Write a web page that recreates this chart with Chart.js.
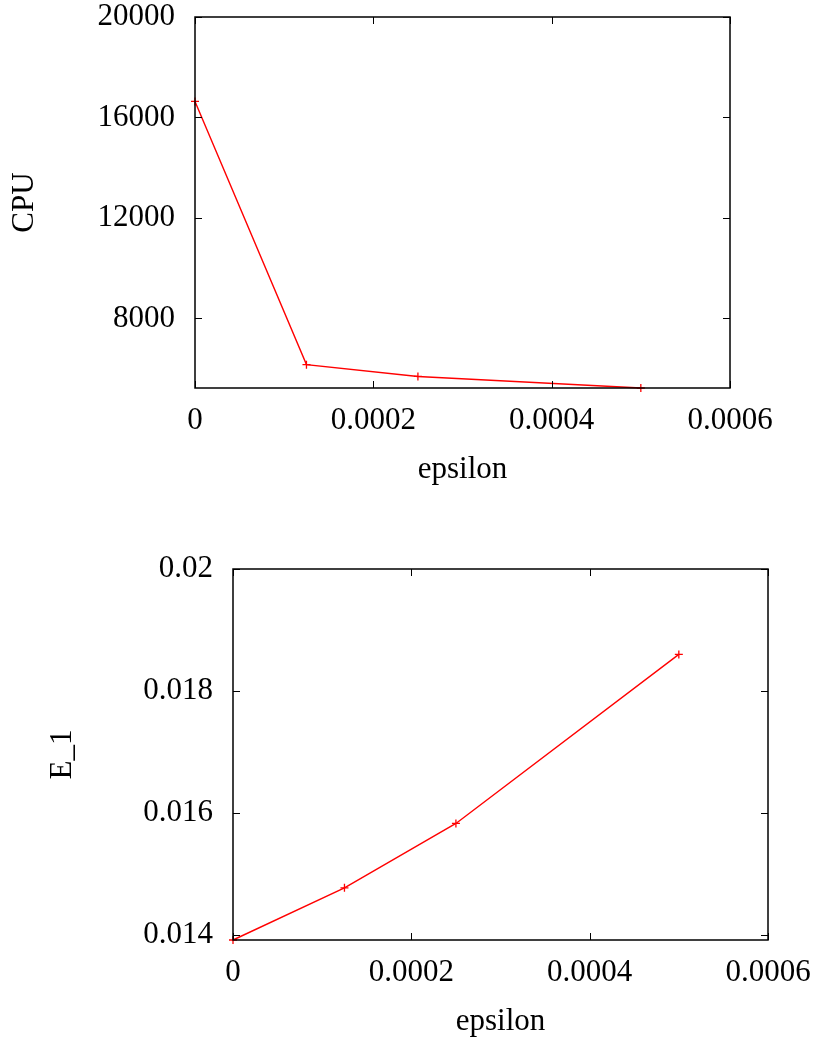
<!DOCTYPE html>
<html>
<head>
<meta charset="utf-8">
<script src="https://cdn.jsdelivr.net/npm/chart.js@4.4.1/dist/chart.umd.min.js"></script>
<style>
  html, body { margin: 0; padding: 0; background: #fff; overflow: hidden; }
  #wrap { position: relative; width: 817px; height: 1042px; }
  .box { position: absolute; left: 0; width: 817px; }
</style>
</head>
<body>
<div id="wrap">
  <div class="box" style="top:0;height:500px"><canvas id="cpu-chart"></canvas></div>
  <div class="box" style="top:500px;height:542px"><canvas id="err-chart"></canvas></div>
</div>
<script>
// data
var epsilon = [0, 0.000125, 0.00025, 0.0005];
var cpuValues = [16640, 6160, 5690, 5230];
var errEpsilon = [0, 0.000125, 0.00025, 0.0005];
var errValues = [0.01392, 0.014775, 0.01583, 0.0186];

var xTicks = [0, 0.0002, 0.0004, 0.0006];
var cpuTicks = [8000, 12000, 16000, 20000];
var errTicks = [0.014, 0.016, 0.018, 0.02];

var serif = "'Liberation Serif', 'Times New Roman', serif";
var fontSize = 31;

function toPoints(xs, ys) {
  return xs.map(function (x, i) {
    return { x: x, y: ys[i] };
  });
}

// gnuplot style frame with inward ticks on all four sides
var framePlugin = {
  id: "frame",
  afterDatasetsDraw: function (chart) {
    var ctx = chart.ctx;
    var a = chart.chartArea;
    var len = 7;
    ctx.save();
    ctx.strokeStyle = "#000";
    ctx.lineWidth = 1;
    ctx.beginPath();
    chart.scales.x.ticks.forEach(function (t) {
      var px = Math.round(chart.scales.x.getPixelForValue(t.value)) + 0.5;
      ctx.moveTo(px, a.bottom);
      ctx.lineTo(px, a.bottom - len);
      ctx.moveTo(px, a.top);
      ctx.lineTo(px, a.top + len);
    });
    chart.scales.y.ticks.forEach(function (t) {
      var py = Math.round(chart.scales.y.getPixelForValue(t.value)) + 0.5;
      ctx.moveTo(a.left, py);
      ctx.lineTo(a.left + len, py);
      ctx.moveTo(a.right, py);
      ctx.lineTo(a.right - len, py);
    });
    ctx.stroke();
    ctx.lineWidth = 1.5;
    ctx.strokeRect(a.left, a.top, a.right - a.left, a.bottom - a.top);
    ctx.restore();
  },
};

function makeChart(id, xs, ys, yTicks, yMin, yMax, yLabel, opts) {
  return new Chart(document.getElementById(id), {
    type: "line",
    data: {
      datasets: [
        {
          data: toPoints(xs, ys),
          borderColor: "rgb(255,0,0)",
          borderWidth: 1.4,
          pointStyle: "cross",
          pointRadius: 4,
          pointBorderColor: "rgb(255,0,0)",
          pointBorderWidth: 1.3,
          fill: false,
          tension: 0,
        },
      ],
    },
    options: {
      responsive: true,
      maintainAspectRatio: false,
      animation: false,
      clip: false,
      layout: {
        padding: { top: opts.top, right: opts.right, bottom: 0, left: 0 },
      },
      plugins: { legend: { display: false }, tooltip: { enabled: false } },
      scales: {
        x: {
          type: "linear",
          min: 0,
          max: 0.0006,
          afterBuildTicks: function (scale) {
            scale.ticks = xTicks.map(function (v) { return { value: v }; });
          },
          afterFit: function (scale) {
            scale.height = opts.xHeight;
            scale.paddingLeft = 0;
            scale.paddingRight = 0;
          },
          grid: { drawOnChartArea: false, drawTicks: false },
          border: { display: false },
          ticks: {
            padding: opts.xPad,
            maxRotation: 0,
            autoSkip: false,
            color: "#000",
            font: { family: serif, size: fontSize },
            callback: function (v) { return String(+v.toFixed(6)); },
          },
          title: {
            display: true,
            text: "epsilon",
            color: "#000",
            font: { family: serif, size: fontSize },
            padding: { top: 0, bottom: opts.xTitlePad },
          },
        },
        y: {
          type: "linear",
          min: yMin,
          max: yMax,
          afterBuildTicks: function (scale) {
            scale.ticks = yTicks.map(function (v) { return { value: v }; });
          },
          afterFit: function (scale) {
            scale.width = opts.yWidth;
            scale.paddingTop = 0;
            scale.paddingBottom = 0;
          },
          grid: { drawOnChartArea: false, drawTicks: false },
          border: { display: false },
          ticks: {
            padding: 20,
            autoSkip: false,
            color: "#000",
            font: { family: serif, size: fontSize },
            callback: function (v) { return String(+v.toFixed(6)); },
          },
          title: {
            display: true,
            text: yLabel,
            color: "#000",
            font: { family: serif, size: fontSize },
            padding: { top: opts.yTitlePad, bottom: 0 },
          },
        },
      },
    },
    plugins: [framePlugin],
  });
}

var cpuChart = makeChart("cpu-chart", epsilon, cpuValues, cpuTicks, 5230, 20000, "CPU", {
  top: 17, right: 87, xHeight: 112, yWidth: 195, xPad: 14, xTitlePad: 12, yTitlePad: 6,
});

var errChart = makeChart("err-chart", errEpsilon, errValues, errTicks, 0.01392, 0.02, "E_1", {
  top: 69, right: 49, xHeight: 102, yWidth: 233, xPad: 14, xTitlePad: 2, yTitlePad: 44,
});
</script>
</body>
</html>
